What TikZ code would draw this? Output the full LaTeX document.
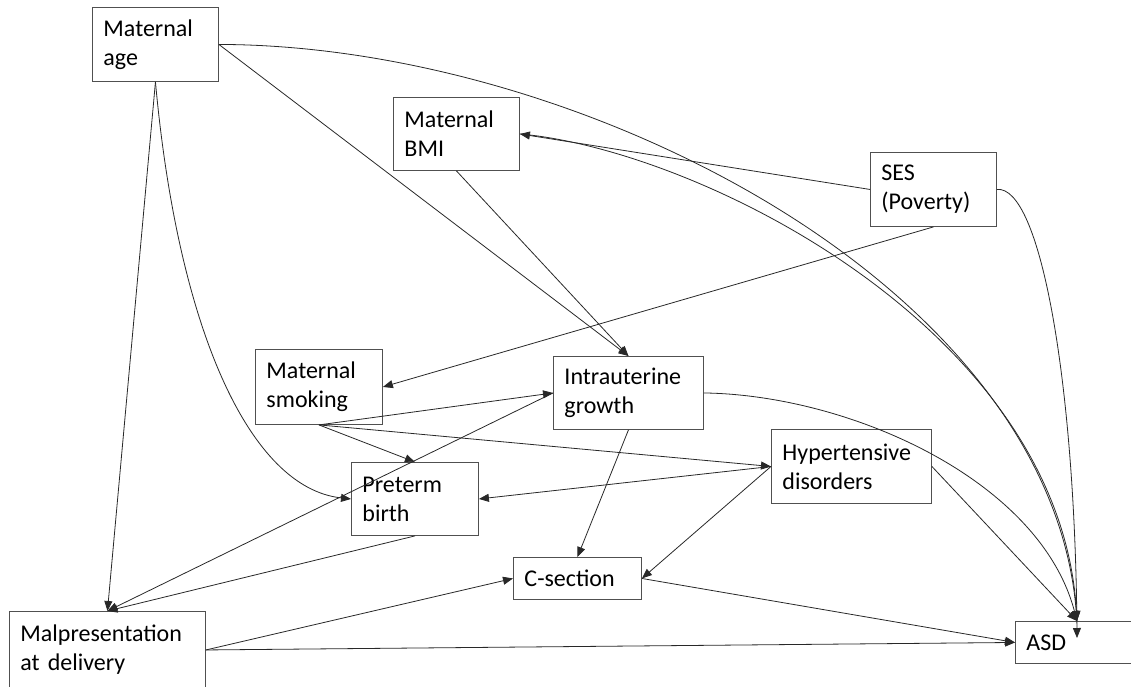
\documentclass[tikz,border=0pt]{standalone}
\usepackage{fontspec}
\setmainfont{Carlito}
\usetikzlibrary{arrows.meta, calc}
\definecolor{boxline}{RGB}{80,80,80}
\definecolor{arcline}{RGB}{40,40,40}
\tikzset{
  var/.style={draw=boxline, line width=0.9pt, anchor=north west, align=left,
              inner xsep=11pt, inner ysep=0pt, font=\fontsize{24}{29}\selectfont},
  link/.style={-{Triangle[length=10pt,width=8pt]}, line width=0.8pt, draw=arcline},
}
\begin{document}
\begin{tikzpicture}[x=1pt, y=-1pt]
\useasboundingbox (0,0) rectangle (1131,686);
% variables
\node[var, text width=104pt, minimum height=74pt] (age)   at (92,7)    {Maternal\\age};
\node[var, text width=104pt, minimum height=73pt] (bmi)   at (393,97)  {Maternal\\BMI};
\node[var, text width=104pt, minimum height=74pt] (ses)   at (870,152) {SES\\(Poverty)};
\node[var, text width=105pt, minimum height=75pt] (smoke) at (255,349) {Maternal\\smoking};
\node[var, text width=128pt, minimum height=73pt] (iug)   at (553,356) {Intrauterine\\growth};
\node[var, text width=138pt, minimum height=74pt] (hyp)   at (771,429) {Hypertensive\\disorders};
\node[var, text width=105pt, minimum height=73pt] (pre)   at (351,462) {Preterm\\birth};
\node[var, text width=106pt, minimum height=42pt] (csec)  at (513,557) {C-section};
\node[var, text width=174pt, minimum height=77pt] (malp)  at (9,611)   {Malpresentation\\at delivery};
\node[var, text width=123pt, minimum height=42pt] (asd)   at (1015,621) {ASD};
\coordinate (asdtop) at (1077,621);
\coordinate (asdin)  at (1077,638);

% maternal age
\draw[link] (age.south) -- (malp.north);
\draw[link] (age.south) .. controls (178,330) and (250,488) .. (pre.west);
\draw[link] (age.east) -- (iug.north);
\draw[link] (age.east) .. controls (580,45) and (1050,285) .. (asdtop);
% BMI and SES
\draw[link] (bmi.south) -- (iug.north);
\draw[link] (ses.west) -- (bmi.east);
\draw[link] (bmi.east) .. controls (700,150) and (1060,330) .. (asdtop);
\draw[link] (ses.south) -- (smoke.east);
\draw[link] (ses.east) .. controls (1040,185) and (1075,380) .. (asdin);
% smoking
\draw[link] (smoke.south) -- (iug.west);
\draw[link] (smoke.south) -- (pre.north);
\draw[link] (smoke.south) -- (hyp.west);
% middle layer
\draw[link] (iug.west) -- (malp.north);
\draw[link] (iug.south) -- (csec.north);
\draw[link] (iug.east) .. controls (850,395) and (1040,480) .. (asdtop);
\draw[link] (hyp.west) -- (pre.east);
\draw[link] (hyp.west) -- (csec.east);
\draw[link] (hyp.east) -- (asdtop);
\draw[link] (pre.south) -- (malp.north);
% delivery
\draw[link] (malp.east) -- (csec.west);
\draw[link] (malp.east) -- (asd.west);
\draw[link] (csec.east) -- (asd.west);
\end{tikzpicture}
\end{document}
